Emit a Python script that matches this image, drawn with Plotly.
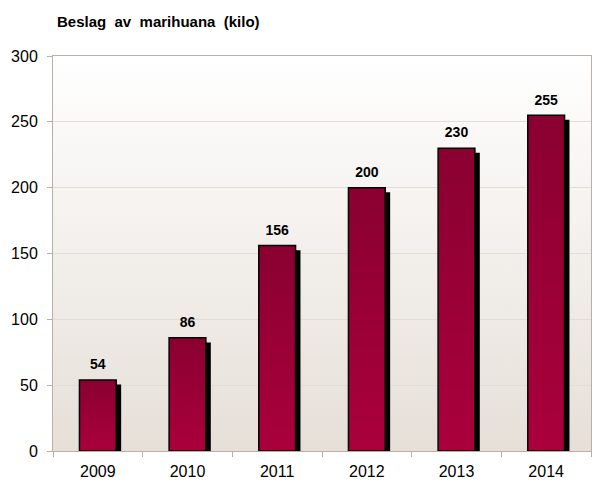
import base64
import plotly.graph_objects as go

years = ["2009", "2010", "2011", "2012", "2013", "2014"]
values = [54, 86, 156, 200, 230, 255]
title_text = "Beslag av marihuana (kilo)"
y_ticks = [0, 50, 100, 150, 200, 250, 300]

FONT = "Liberation Sans, Arial, sans-serif"
bar_w = 0.41
shadow_dx = 0.055
shadow_dy = 3.5

xs = list(range(len(years)))

bg_svg = (
    '<svg xmlns="http://www.w3.org/2000/svg" width="100" height="100" preserveAspectRatio="none">'
    '<defs><linearGradient id="g" x1="0" y1="0" x2="0" y2="1">'
    '<stop offset="0" stop-color="#ffffff"/><stop offset="1" stop-color="#e6dfd8"/>'
    '</linearGradient></defs><rect width="100" height="100" fill="url(#g)"/></svg>'
)
bg_uri = "data:image/svg+xml;base64," + base64.b64encode(bg_svg.encode()).decode()

fig = go.Figure()
# shadow bars
fig.add_trace(go.Bar(
    x=[x + shadow_dx for x in xs], y=[v - shadow_dy for v in values], width=bar_w,
    marker=dict(color="#000000", line=dict(width=0)),
    hoverinfo="skip", showlegend=False,
))
# main bars, each a filled polygon with a vertical gradient
for x, v in zip(xs, values):
    x0, x1 = x - bar_w / 2, x + bar_w / 2
    fig.add_trace(go.Scatter(
        x=[x0, x1, x1, x0, x0], y=[0, 0, v, v, 0],
        mode="lines", fill="toself",
        line=dict(color="#000000", width=1.5),
        fillgradient=dict(type="vertical",
                          colorscale=[[0, "#aa003b"], [1, "#8a0031"]]),
        hoverinfo="skip", showlegend=False,
    ))
# value labels
fig.add_trace(go.Scatter(
    x=xs, y=values, mode="markers+text", text=[str(v) for v in values],
    textposition="top center",
    marker=dict(size=10, opacity=0),
    textfont=dict(family=FONT, size=14, color="#000000", weight="bold"),
    cliponaxis=False, showlegend=False, hoverinfo="skip",
))

fig.update_layout(
    width=592, height=481,
    margin=dict(l=45, r=9, t=48, b=38),
    paper_bgcolor="#ffffff",
    plot_bgcolor="rgba(0,0,0,0)",
    barmode="overlay",
    font=dict(family=FONT, size=16, color="#000000"),
    title=dict(text="<b>Beslag&nbsp; av&nbsp; marihuana&nbsp; (kilo)</b>", x=49 / 592, xanchor="left",
               y=1 - 14 / 481, yanchor="middle",
               font=dict(family=FONT, size=15, color="#000000")),
    images=[dict(source=bg_uri, xref="paper", yref="paper", x=0, y=1,
                 sizex=1, sizey=1, sizing="stretch", layer="below",
                 xanchor="left", yanchor="top")],
)
fig.update_xaxes(
    tickmode="array", tickvals=xs, ticktext=years, range=[-0.5, len(years) - 0.5],
    showline=True, linecolor="#b8b0a8", linewidth=1, mirror=True,
    ticks="", showgrid=False, zeroline=False, ticklabelstandoff=6, automargin=False,
    tickfont=dict(family=FONT, size=16, color="#000000"),
)
# category boundary ticks on secondary hidden axis
fig.update_layout(xaxis2=dict(
    overlaying="x", matches="x", side="bottom", tickmode="array",
    tickvals=[x + 0.5 for x in [-1] + xs], ticktext=[""] * (len(xs) + 1),
    ticks="outside", ticklen=5, tickcolor="#b8b0a8", showgrid=False,
    showline=False, zeroline=False, automargin=False,
))
fig.add_trace(go.Scatter(x=[0], y=[0], xaxis="x2", mode="markers",
                         marker=dict(opacity=0), showlegend=False, hoverinfo="skip"))
fig.update_yaxes(
    range=[0, 300], tickvals=y_ticks,
    showline=True, linecolor="#b8b0a8", linewidth=1, mirror=True,
    ticks="outside", ticklen=5, tickcolor="#b8b0a8",
    showgrid=True, gridcolor="#e3ddd7", gridwidth=1,
    zeroline=False, ticklabelstandoff=6, automargin=False,
    tickfont=dict(family=FONT, size=16, color="#000000"),
)

fig.write_html("out.html")
